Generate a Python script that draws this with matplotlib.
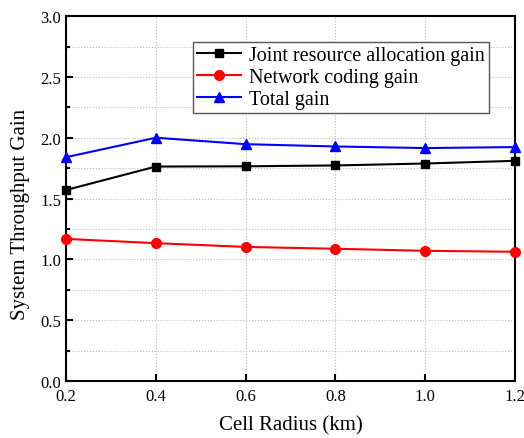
import matplotlib.pyplot as plt
from matplotlib.ticker import MultipleLocator

plt.rcParams['font.family'] = ['Liberation Serif', 'DejaVu Serif']

# Datos
radius = [0.2, 0.4, 0.6, 0.8, 1.0, 1.2]
joint_gain = [1.57, 1.763, 1.765, 1.772, 1.788, 1.81]
nc_gain = [1.168, 1.133, 1.102, 1.087, 1.070, 1.062]
total_gain = [1.84, 2.0, 1.947, 1.928, 1.915, 1.923]
labels = ['Joint resource allocation gain', 'Network coding gain', 'Total gain']

fig = plt.figure(figsize=(5.24, 4.39), dpi=100)
ax = fig.add_axes([0.126, 0.13, 0.857, 0.831])

ax.plot(radius, joint_gain, color='black', marker='s', markersize=6, lw=1.5, label=labels[0], clip_on=False, zorder=3)
ax.plot(radius, nc_gain, color='red', marker='o', markersize=7, lw=1.5, label=labels[1], clip_on=False, zorder=3)
ax.plot(radius, total_gain, color='blue', marker='^', markersize=7, lw=1.5, label=labels[2], clip_on=False, zorder=3)

ax.set_xlim(0.2, 1.2)
ax.set_ylim(0, 3.0)
ax.xaxis.set_major_locator(MultipleLocator(0.2))
ax.yaxis.set_major_locator(MultipleLocator(0.5))
ax.yaxis.set_minor_locator(MultipleLocator(0.25))
ax.xaxis.set_major_formatter(plt.FormatStrFormatter('%.1f'))
ax.yaxis.set_major_formatter(plt.FormatStrFormatter('%.1f'))
ax.grid(True, which='both', linestyle=':', color='#bbbbbb', lw=0.8)
ax.set_axisbelow(True)
ax.tick_params(which='both', direction='in', labelsize=12, width=1.5)
ax.tick_params(which='major', length=5)
ax.tick_params(which='minor', length=3)
ax.tick_params(axis='x', pad=5)
for s in ax.spines.values():
    s.set_linewidth(1.5)

ax.set_xlabel('Cell Radius (km)', fontsize=15, labelpad=8)
ax.set_ylabel('System Throughput Gain', fontsize=15)
ax.yaxis.set_label_coords(-0.08, 0.46)

leg = ax.legend(loc='upper left', bbox_to_anchor=(0.282, 0.93), fontsize=14.5, fancybox=False,
                edgecolor='#555555', framealpha=1, handlelength=2.2, borderpad=0.2,
                labelspacing=0.15, handletextpad=0.4, borderaxespad=0)
leg.get_frame().set_linewidth(1.0)

plt.savefig('out.png', dpi=100)
